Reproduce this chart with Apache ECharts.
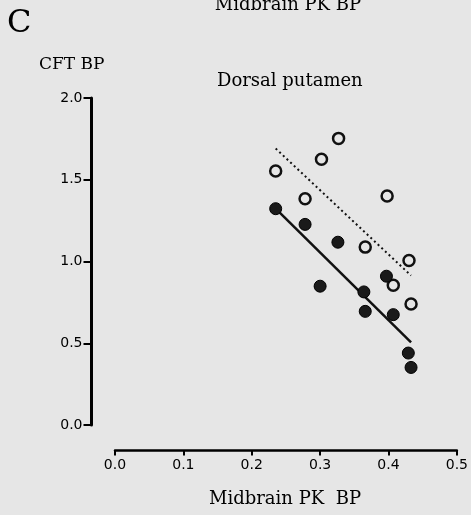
<!DOCTYPE html>
<html>
<head>
<meta charset="utf-8">
<script src="https://cdn.jsdelivr.net/npm/echarts@6/dist/echarts.min.js"></script>
<style>
html,body{margin:0;padding:0;background:#e6e6e6;}
#c{width:471px;height:515px;}
</style>
</head>
<body>
<div id="c"></div>
<script>
// Open circles
const openX = [0.327, 0.302, 0.235, 0.278, 0.398, 0.366, 0.430, 0.407, 0.433];
const openY = [1.753, 1.626, 1.554, 1.384, 1.400, 1.088, 1.006, 0.855, 0.740];
// Filled circles
const filledX = [0.235, 0.278, 0.326, 0.300, 0.397, 0.364, 0.366, 0.407, 0.429, 0.433];
const filledY = [1.323, 1.227, 1.118, 0.849, 0.910, 0.814, 0.695, 0.675, 0.440, 0.352];
// Regression line endpoints
const solidLineX = [0.235, 0.433];
const solidLineY = [1.323, 0.505];
const dottedLineX = [0.235, 0.433];
const dottedLineY = [1.691, 0.914];
// Axis ticks
const xTicks = [0.0, 0.1, 0.2, 0.3, 0.4, 0.5];
const yTicks = [0.0, 0.5, 1.0, 1.5, 2.0];

const zip = (a, b) => a.map((v, i) => [v, b[i]]);
const serif = '"DejaVu Serif", serif';
const sans = '"DejaVu Sans", sans-serif';
const bg = '#e6e6e6';

const chart = echarts.init(document.getElementById('c'));
chart.setOption({
  backgroundColor: bg,
  animation: false,
  grid: {left: 115, right: 12, top: 98, bottom: 90},
  xAxis: {
    type: 'value', min: xTicks[0], max: xTicks[xTicks.length - 1], interval: 0.1,
    offset: 25.5,
    axisLine: {show: true, onZero: false, lineStyle: {color: '#000', width: 2.5}},
    axisTick: {show: true, length: 5, lineStyle: {color: '#000', width: 2}},
    axisLabel: {margin: 8, color: '#000', fontFamily: sans, fontSize: 14,
      formatter: v => v.toFixed(1)},
    splitLine: {show: false}
  },
  yAxis: {
    type: 'value', min: yTicks[0], max: yTicks[yTicks.length - 1], interval: 0.5,
    offset: 23.5,
    axisLine: {show: true, onZero: false, lineStyle: {color: '#000', width: 3}},
    axisTick: {show: true, length: 8, lineStyle: {color: '#000', width: 2}},
    axisLabel: {margin: 9, color: '#000', fontFamily: sans, fontSize: 14,
      formatter: v => v.toFixed(1)},
    splitLine: {show: false}
  },
  series: [
    {type: 'line', data: zip(dottedLineX, dottedLineY), symbol: 'none',
      lineStyle: {color: '#111', width: 2, type: [2, 3]}, z: 1},
    {type: 'line', data: zip(solidLineX, solidLineY), symbol: 'none',
      lineStyle: {color: '#111', width: 2.5}, z: 1},
    {type: 'scatter', data: zip(openX, openY), symbol: 'circle', symbolSize: 11,
      itemStyle: {color: bg, borderColor: '#111', borderWidth: 2.5, opacity: 1}, z: 3},
    {type: 'scatter', data: zip(filledX, filledY), symbol: 'circle', symbolSize: 12,
      itemStyle: {color: '#1a1a1a', borderColor: '#000', borderWidth: 1, opacity: 1}, z: 4}
  ],
  graphic: [
    {type: 'text', left: 7, top: 8, style: {text: 'C', font: '32px ' + serif, fill: '#000'}},
    {type: 'text', x: 288, y: 14, style: {text: 'Midbrain PK BP', font: '18px ' + serif, fill: '#000', textAlign: 'center', textVerticalAlign: 'bottom'}},
    {type: 'text', x: 39, y: 73, style: {text: 'CFT BP', font: '17px ' + serif, fill: '#000', textAlign: 'left', textVerticalAlign: 'bottom'}},
    {type: 'text', x: 217, y: 90, style: {text: 'Dorsal putamen', font: '18px ' + serif, fill: '#000', textAlign: 'left', textVerticalAlign: 'bottom'}},
    {type: 'text', x: 285, y: 508, style: {text: 'Midbrain PK  BP', font: '18px ' + serif, fill: '#000', textAlign: 'center', textVerticalAlign: 'bottom'}}
  ]
});
</script>
</body>
</html>
